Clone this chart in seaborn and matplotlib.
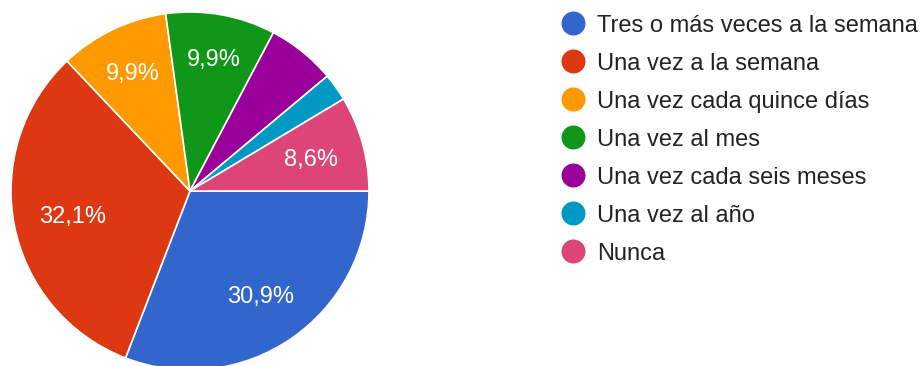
import matplotlib
matplotlib.use("Agg")
import matplotlib.pyplot as plt
import numpy as np
import seaborn as sns

# Survey answers: how often respondents do the activity (% of responses)
categories = [
    "Tres o más veces a la semana",
    "Una vez a la semana",
    "Una vez cada quince días",
    "Una vez al mes",
    "Una vez cada seis meses",
    "Una vez al año",
    "Nunca",
]
percentages = [30.9, 32.1, 9.9, 9.9, 6.2, 2.5, 8.6]
colors = ["#3366cc", "#dc3912", "#ff9900", "#109618", "#990099", "#0099c6", "#dd4477"]

sns.set_theme(style="white")
plt.rcParams["font.family"] = ["Liberation Sans", "DejaVu Sans"]

W, H, DPI = 924, 366, 100
fig = plt.figure(figsize=(W / DPI, H / DPI), dpi=DPI)
fig.patch.set_facecolor("white")

# Pie: centre at (190, 191) px from top-left, radius 179 px
cx, cy, r = 190, 191, 179
ax = fig.add_axes([(cx - r) / W, (H - cy - r) / H, 2 * r / W, 2 * r / H])


def fmt(p):
    return (f"{p:.1f}%".replace(".", ",")) if p >= 7 else ""


wedges, _, autotexts = ax.pie(
    percentages,
    colors=colors,
    startangle=0,
    counterclock=False,
    autopct=fmt,
    pctdistance=0.71,
    wedgeprops=dict(edgecolor="white", linewidth=1.2),
    textprops=dict(color="white", fontsize=17),
)

# radial placement of each percentage label (fraction of radius)
label_dist = [0.70, 0.67, 0.74, 0.76, 0.70, 0.70, 0.70]
for w, t, d in zip(wedges, autotexts, label_dist):
    mid = np.deg2rad((w.theta1 + w.theta2) / 2)
    t.set_position((d * np.cos(mid), d * np.sin(mid)))
    t.set_ha("center")
    t.set_va("center_baseline")
ax.set_xlim(-1, 1)
ax.set_ylim(-1, 1)
ax.set_aspect("equal")
ax.axis("off")

# Legend drawn in pixel coordinates
lax = fig.add_axes([0, 0, 1, 1])
lax.set_xlim(0, W)
lax.set_ylim(H, 0)
lax.axis("off")
lax.patch.set_alpha(0)
row0, step = 23.5, 38
for i, (lab, col) in enumerate(zip(categories, colors)):
    y = row0 + i * step
    lax.scatter([573.5], [y], s=(24 * 0.72) ** 2, color=col, edgecolors="none")
    lax.text(597, y + 8.5, lab, fontsize=17, color="#222222", va="baseline", ha="left")

fig.savefig("out.png", dpi=DPI, facecolor="white")
